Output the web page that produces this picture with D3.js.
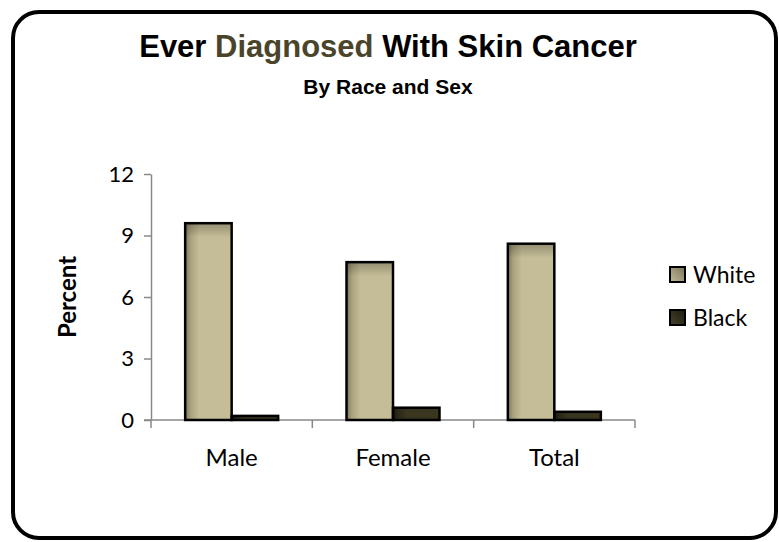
<!DOCTYPE html>
<html>
<head>
<meta charset="utf-8">
<script src="https://cdn.jsdelivr.net/npm/d3@7"></script>
<style>
  html, body { margin: 0; padding: 0; background: #fff; }
  svg { display: block; }
</style>
</head>
<body>
<script>
// Chart data
const categories = ["Male", "Female", "Total"];
const seriesNames = ["White", "Black"];
const whiteValues = [9.6, 7.7, 8.6];
const blackValues = [0.2, 0.6, 0.4];
const yTicks = [0, 3, 6, 9, 12];

const W = 779, H = 542;
const svg = d3.select("body").append("svg").attr("width", W).attr("height", H);

// Gradients for the bar fills
const defs = svg.append("defs");
function barGradient(id, dark, mid, light) {
  const g = defs.append("linearGradient").attr("id", id)
    .attr("x1", "0%").attr("y1", "0%").attr("x2", "100%").attr("y2", "0%");
  g.append("stop").attr("offset", "0%").attr("stop-color", dark);
  g.append("stop").attr("offset", "12%").attr("stop-color", mid);
  g.append("stop").attr("offset", "30%").attr("stop-color", light);
  g.append("stop").attr("offset", "100%").attr("stop-color", light);
}
barGradient("gWhite", "#7d775b", "#aaa37f", "#c4bd97");
barGradient("gBlack", "#1c1a10", "#2c2919", "#39351f");
const topShade = defs.append("linearGradient").attr("id", "gTop")
  .attr("x1", "0%").attr("y1", "0%").attr("x2", "0%").attr("y2", "100%");
topShade.append("stop").attr("offset", "0%").attr("stop-color", "#000").attr("stop-opacity", 0.25);
topShade.append("stop").attr("offset", "100%").attr("stop-color", "#000").attr("stop-opacity", 0);

// Legend swatch gradients (diagonal light-to-dark)
function swatchGradient(id, light, dark) {
  const g = defs.append("linearGradient").attr("id", id)
    .attr("x1", "0%").attr("y1", "100%").attr("x2", "100%").attr("y2", "0%");
  g.append("stop").attr("offset", "0%").attr("stop-color", light);
  g.append("stop").attr("offset", "100%").attr("stop-color", dark);
}
swatchGradient("sWhite", "#c4bd97", "#77715a");
swatchGradient("sBlack", "#4a452a", "#1c1a10");

// Outer rounded frame
svg.append("rect")
  .attr("x", 13).attr("y", 12).attr("width", 763).attr("height", 526)
  .attr("rx", 26).attr("ry", 26)
  .attr("fill", "#fff").attr("stroke", "#000").attr("stroke-width", 4);

// Titles
const title = svg.append("text")
  .attr("x", 388).attr("y", 57).attr("text-anchor", "middle")
  .style("font-family", "'Liberation Sans', Arial, sans-serif")
  .style("font-weight", "bold").style("font-size", "31px");
title.append("tspan").attr("fill", "#000").text("Ever ");
title.append("tspan").attr("fill", "#4a452a").text("Diagnosed");
title.append("tspan").attr("fill", "#000").text(" With Skin Cancer");

svg.append("text")
  .attr("x", 388).attr("y", 94).attr("text-anchor", "middle")
  .style("font-family", "'Liberation Sans', Arial, sans-serif")
  .style("font-weight", "bold").style("font-size", "21px")
  .attr("fill", "#000").text("By Race and Sex");

// Scales
const x0 = d3.scaleBand().domain(categories).range([151, 635]).paddingInner(0).paddingOuter(0);
const x1 = d3.scaleBand().domain(seriesNames).range([0, x0.bandwidth()])
  .paddingInner(0).paddingOuter(0.735);
const y = d3.scaleLinear().domain([0, 12]).range([420, 174]);

const labelFont = "Lato, 'Open Sans', sans-serif";

// Y axis
const yAxis = svg.append("g").attr("transform", "translate(151,0)")
  .call(d3.axisLeft(y).tickValues(yTicks).tickSize(7).tickSizeOuter(0).tickPadding(10));
yAxis.select(".domain").attr("stroke", "#888").attr("stroke-width", 1.5);
yAxis.selectAll(".tick line").attr("stroke", "#888").attr("stroke-width", 1.5);
yAxis.selectAll(".tick text")
  .style("font-family", labelFont).style("font-size", "22px").attr("fill", "#000");

// X axis: tick marks at category boundaries, labels at band centres
const xAxisG = svg.append("g");
xAxisG.append("line")
  .attr("x1", 144).attr("x2", 635).attr("y1", y(0)).attr("y2", y(0))
  .attr("stroke", "#888").attr("stroke-width", 1.5);
const boundaries = categories.map(c => x0(c)).concat([x0(categories[categories.length - 1]) + x0.bandwidth()]);
xAxisG.selectAll("line.btick").data(boundaries).join("line")
  .attr("class", "btick")
  .attr("x1", d => d).attr("x2", d => d)
  .attr("y1", y(0)).attr("y2", y(0) + 8)
  .attr("stroke", "#888").attr("stroke-width", 1.5);
xAxisG.selectAll("text").data(categories).join("text")
  .attr("x", d => x0(d) + x0.bandwidth() / 2)
  .attr("y", 466).attr("text-anchor", "middle")
  .style("font-family", labelFont).style("font-size", "24px")
  .attr("fill", "#000").text(d => d);

// Y axis title
svg.append("text")
  .attr("transform", "translate(76,297) rotate(-90)")
  .attr("text-anchor", "middle")
  .style("font-family", labelFont).style("font-weight", "bold").style("font-size", "24px")
  .attr("fill", "#000").text("Percent");

// Bars
const rows = categories.map((c, i) => ({
  cat: c,
  vals: [{ s: "White", v: whiteValues[i] }, { s: "Black", v: blackValues[i] }]
}));
const fills = { White: "url(#gWhite)", Black: "url(#gBlack)" };
const swatches = { White: "url(#sWhite)", Black: "url(#sBlack)" };

const groups = svg.append("g").selectAll("g").data(rows).join("g")
  .attr("transform", d => `translate(${x0(d.cat)},0)`);

groups.selectAll("rect.bar").data(d => d.vals).join("rect")
  .attr("class", "bar")
  .attr("x", d => x1(d.s)).attr("width", x1.bandwidth())
  .attr("y", d => y(d.v)).attr("height", d => y(0) - y(d.v))
  .attr("fill", d => fills[d.s]);

// Soft shade along the top of the tall bars
groups.selectAll("rect.shade").data(d => d.vals.filter(v => v.s === "White")).join("rect")
  .attr("class", "shade")
  .attr("x", d => x1(d.s)).attr("width", x1.bandwidth())
  .attr("y", d => y(d.v)).attr("height", 14)
  .attr("fill", "url(#gTop)");

groups.selectAll("rect.outline").data(d => d.vals).join("rect")
  .attr("class", "outline")
  .attr("x", d => x1(d.s)).attr("width", x1.bandwidth())
  .attr("y", d => y(d.v)).attr("height", d => y(0) - y(d.v))
  .attr("fill", "none").attr("stroke", "#000").attr("stroke-width", 2.5);

// Legend
const legend = svg.append("g").selectAll("g").data(seriesNames).join("g")
  .attr("transform", (d, i) => `translate(670,${267 + i * 43})`);
legend.append("rect")
  .attr("width", 15).attr("height", 15)
  .attr("fill", d => swatches[d]).attr("stroke", "#000").attr("stroke-width", 2);
legend.append("text")
  .attr("x", 23).attr("y", 8).attr("dy", "0.35em")
  .style("font-family", labelFont).style("font-size", "23px")
  .attr("fill", "#000").text(d => d);
</script>
</body>
</html>
